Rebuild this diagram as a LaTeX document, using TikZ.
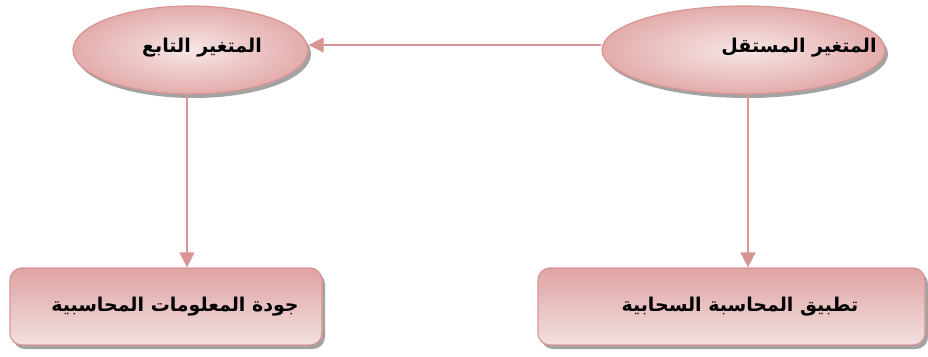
\documentclass[tikz,border=0pt]{standalone}
\usepackage{fontspec}
\usetikzlibrary{shapes.geometric,arrows.meta,shadows}
\TeXXeTstate=1
\newfontfamily\arabicfont[Script=Arabic]{DejaVu Sans}
\definecolor{pinkline}{HTML}{D99594}
\definecolor{pinkin}{HTML}{F6E6E6}
\definecolor{pinkout}{HTML}{E3ACAB}
\definecolor{pinkdark}{HTML}{DFA3A3}
\definecolor{pinklight}{HTML}{F3E0E0}
\tikzset{
  shade/.style={drop shadow={shadow xshift=3pt,shadow yshift=-4pt,fill=black!45,opacity=0.8}},
  varell/.style={ellipse,draw=pinkline,line width=1.2pt,inner sep=0pt,
    inner color=pinkin,outer color=pinkout,shade},
  resbox/.style={rectangle,rounded corners=12pt,draw=pinkline,line width=1.2pt,inner sep=0pt,
    top color=pinkdark,bottom color=pinklight,shade},
  lbl/.style={font=\arabicfont\bfseries\fontsize{19}{23}\selectfont,text=black,inner sep=0pt},
  conn/.style={draw=pinkline,line width=1.3pt,-{Triangle[length=15pt,width=15pt]}}
}
\begin{document}
\begin{tikzpicture}[x=1pt,y=-1pt]
\useasboundingbox (0,0) rectangle (928,356);
% ellipses
\node[varell,minimum width=235pt,minimum height=88pt] (dep) at (190.5,50) {};
\node[varell,minimum width=283pt,minimum height=88pt] (ind) at (743.5,50) {};
% boxes
\node[resbox,minimum width=312pt,minimum height=77pt] (quality) at (166,306.5) {};
\node[resbox,minimum width=387pt,minimum height=77pt] (cloud) at (731.5,306.5) {};
% labels
\node[lbl] (tdep) at (202,48) {\beginR المتغير التابع\endR};
\node[lbl] (tind) at (799,48) {\beginR المتغير المستقل\endR};
\node[lbl] (tquality) at (175,307) {\beginR جودة المعلومات المحاسبية\endR};
\node[lbl] (tcloud) at (740,307) {\beginR تطبيق المحاسبة السحابية\endR};
% connectors
\draw[conn] (ind.west |- 0,45) -- (dep.east |- 0,45);
\draw[conn] (187,94) coordinate (d1) -- (d1 |- quality.north);
\draw[conn] (748,94) coordinate (i1) -- (i1 |- cloud.north);
\end{tikzpicture}
\end{document}
